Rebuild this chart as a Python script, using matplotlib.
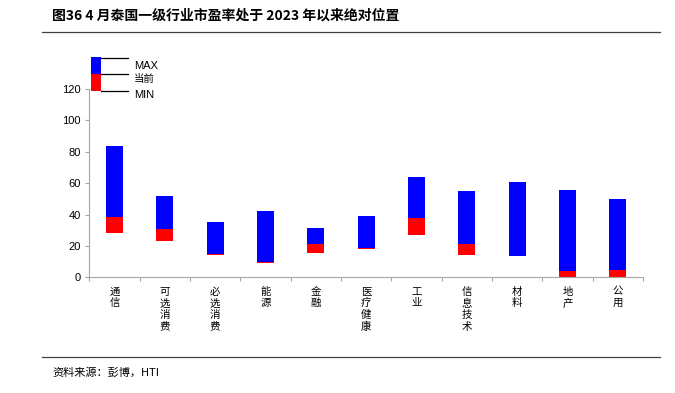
import numpy as np
import matplotlib
matplotlib.use('Agg')
import matplotlib.pyplot as plt
from matplotlib.patches import Rectangle
from matplotlib.lines import Line2D

plt.rcParams['font.family'] = ['Noto Sans CJK SC', 'DejaVu Sans']

# 泰国一级行业市盈率 (2023年以来)
sectors = ['通信', '可选消费', '必选消费', '能源', '金融', '医疗健康',
           '工业', '信息技术', '材料', '地产', '公用']
pe_max = [83.8, 51.6, 35.2, 42.2, 31.2, 39.0, 64.1, 55.0, 60.5, 55.4, 50.1]
pe_now = [38.2, 30.8, 15.0, 9.9, 21.4, 18.9, 38.0, 21.4, 13.4, 4.0, 4.9]
pe_min = [28.4, 23.1, 14.2, 9.3, 15.7, 17.8, 26.9, 14.4, 13.4, 0.2, 0.2]
yticks = [0, 20, 40, 60, 80, 100, 120]

W, H = 675, 393
fig = plt.figure(figsize=(W/100, H/100), dpi=100)

def fx(px):
    return px / W

def fy(py):
    return 1 - py / H

ax = fig.add_axes([fx(89.3), fy(277.3), fx(643) - fx(89.3), fy(89) - fy(277.3)])

x = np.arange(len(sectors))
pe_max = np.array(pe_max)
pe_now = np.array(pe_now)
pe_min = np.array(pe_min)
bw = 0.34
ax.bar(x, pe_now - pe_min, bottom=pe_min, width=bw, color='#ff0000', edgecolor='none')
ax.bar(x, pe_max - pe_now, bottom=pe_now, width=bw, color='#0000ff', edgecolor='none')

ax.set_xlim(-0.5, len(sectors) - 0.5)
ax.set_ylim(0, 120)
ax.set_yticks(yticks)
ax.set_yticklabels([str(v) for v in yticks], fontsize=8, family='Liberation Sans')
ax.set_xticks(np.arange(len(sectors) + 1) - 0.5)
ax.set_xticklabels([])
for sp in ['top', 'right']:
    ax.spines[sp].set_visible(False)
for sp in ['left', 'bottom']:
    ax.spines[sp].set_color('#a6a6a6')
    ax.spines[sp].set_linewidth(0.8)
ax.tick_params(axis='both', color='#a6a6a6', length=3, width=0.8, direction='out', pad=3)

# vertical category labels
for i, s in enumerate(sectors):
    ax.text(i, -6, '\n'.join(s), ha='center', va='top', fontsize=7.5,
            linespacing=1.2, transform=ax.transData, clip_on=False)

# legend drawn by hand
fig.patches.append(Rectangle((fx(91), fy(74)), fx(10), fy(57.5) - fy(74),
                             transform=fig.transFigure, color='#0000ff', lw=0))
fig.patches.append(Rectangle((fx(91), fy(91)), fx(10), fy(74) - fy(91),
                             transform=fig.transFigure, color='#ff0000', lw=0))
for py in [57.5, 74, 91]:
    fig.lines.append(Line2D([fx(101), fx(128)], [fy(py), fy(py)],
                            transform=fig.transFigure, color='black', lw=0.9))
fig.text(fx(134), fy(66), 'MAX', fontsize=8, va='center', family='Liberation Sans')
fig.text(fx(134), fy(79), '当前', fontsize=7.5, va='center')
fig.text(fx(134), fy(94.5), 'MIN', fontsize=8, va='center', family='Liberation Sans')

# title and frame lines
fig.text(fx(52), fy(16), '图36 4 月泰国一级行业市盈率处于 2023 年以来绝对位置',
         fontsize=10, fontweight='bold', va='center')
fig.lines.append(Line2D([fx(42), fx(660)], [fy(32), fy(32)],
                        transform=fig.transFigure, color='#404040', lw=0.9))
fig.lines.append(Line2D([fx(42), fx(660)], [fy(357), fy(357)],
                        transform=fig.transFigure, color='#404040', lw=0.9))
fig.text(fx(52), fy(372), '资料来源：彭博，HTI', fontsize=8, va='center')

fig.savefig('out.png', dpi=100)
